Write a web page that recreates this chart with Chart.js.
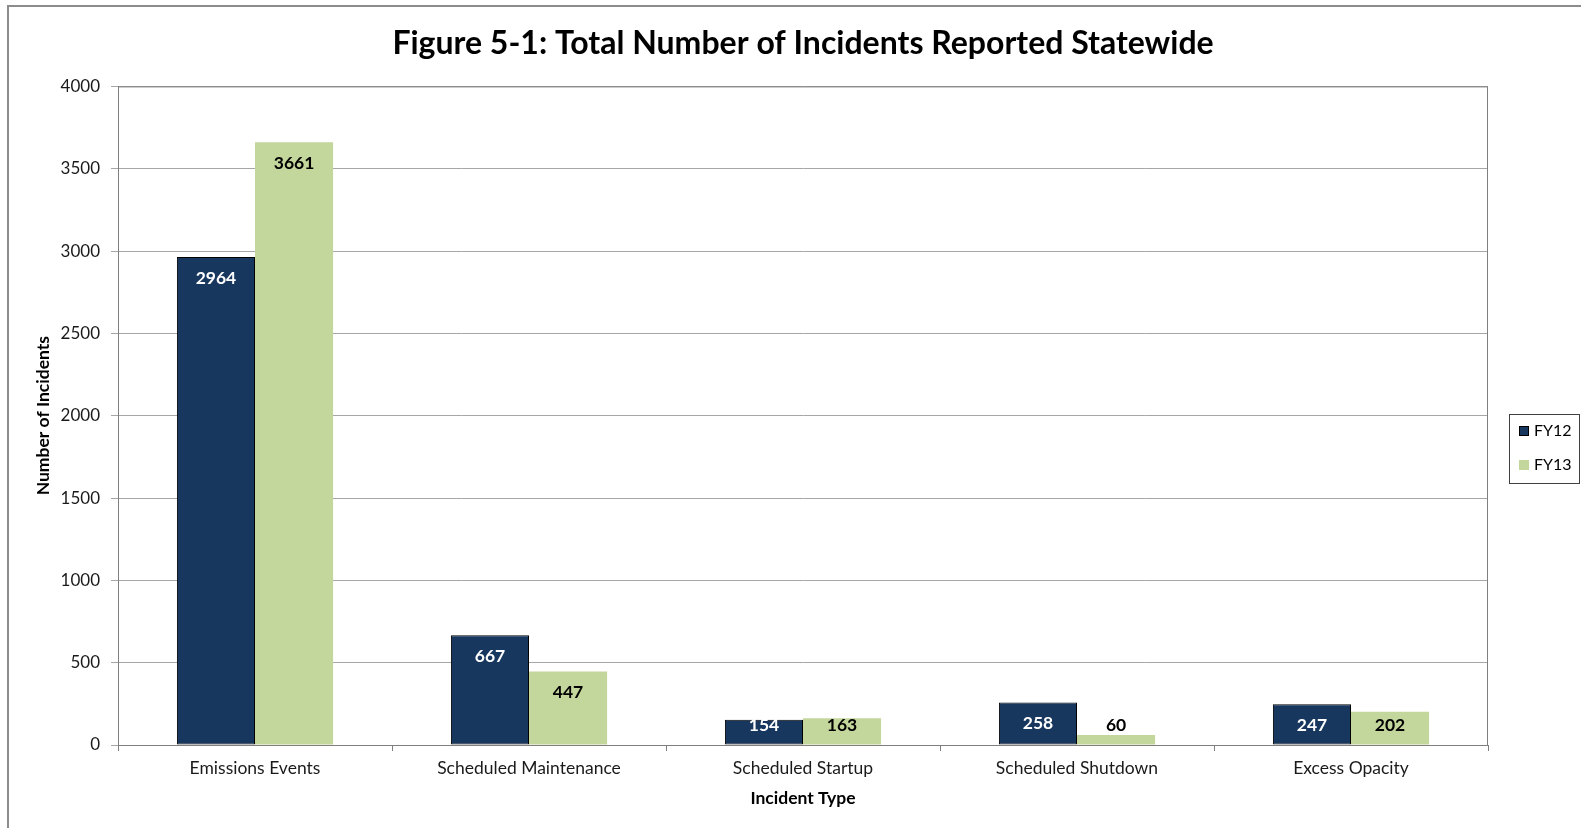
<!DOCTYPE html>
<html>
<head>
<meta charset="utf-8">
<script src="https://cdn.jsdelivr.net/npm/chart.js@4.4.0/dist/chart.umd.min.js"></script>
<style>
 html,body{margin:0;padding:0;background:#fff;overflow:hidden;}
 #wrap{position:relative;width:1581px;height:828px;}
</style>
</head>
<body>
<div id="wrap"><canvas id="chart" width="1581" height="828"></canvas></div>
<script>
const categories=["Emissions Events","Scheduled Maintenance","Scheduled Startup","Scheduled Shutdown","Excess Opacity"];
const fy12=[2964,667,154,258,247];
const fy13=[3661,447,163,60,202];
const seriesNames=["FY12","FY13"];

const FONT="Lato, 'Open Sans', sans-serif";

// outer frame of the chart object
const framePlugin={
 id:"frame",
 beforeDraw(chart){
   const c=chart.ctx;
   c.save();
   c.fillStyle="#fff";
   c.fillRect(0,0,chart.width,chart.height);
   c.strokeStyle="#8c8c8c";
   c.lineWidth=2;
   c.beginPath();
   c.moveTo(8,chart.height);
   c.lineTo(8,6);
   c.lineTo(chart.width,6);
   c.stroke();
   c.restore();
 },
 beforeDatasetsDraw(chart){
   const a=chart.chartArea,c=chart.ctx;
   c.save();
   c.strokeStyle="#7f7f7f";
   c.lineWidth=1;
   c.strokeRect(a.left+0.5,a.top+0.5,a.right-a.left-1,a.bottom-a.top);
   c.restore();
 }
};

// value labels, inside end like Excel
const labelPlugin={
 id:"barLabels",
 afterDatasetsDraw(chart){
   const c=chart.ctx;
   c.save();
   c.font="bold 17.5px "+FONT;
   c.textAlign="center";
   c.textBaseline="middle";
   chart.data.datasets.forEach((ds,i)=>{
     chart.getDatasetMeta(i).data.forEach((bar,j)=>{
       const y=Math.min(bar.y+21,bar.base-19);
       c.fillStyle=i===0?"#ffffff":"#000000";
       c.fillText(String(ds.data[j]),bar.x,y);
     });
   });
   c.restore();
 }
};

// legend box on the right
const legendPlugin={
 id:"sideLegend",
 afterDraw(chart){
   const c=chart.ctx;
   c.save();
   c.fillStyle="#fff";
   c.fillRect(1509,414,71,70);
   c.strokeStyle="#404040";
   c.lineWidth=1;
   c.strokeRect(1509.5,414.5,70,69);
   c.font="16px "+FONT;
   c.textBaseline="middle";
   chart.data.datasets.forEach((ds,i)=>{
     const y=431+i*34;
     c.fillStyle=ds.backgroundColor;
     c.fillRect(1519,y-5,10,10);
     if(ds.borderWidth){
       c.strokeStyle="#000";
       c.strokeRect(1519.5,y-4.5,9,9);
     }
     c.fillStyle="#000";
     c.fillText(ds.label,1534,y);
   });
   c.restore();
 }
};

new Chart(document.getElementById("chart"),{
 type:"bar",
 data:{
   labels:categories,
   datasets:[
     {label:seriesNames[0],data:fy12,backgroundColor:"#17375E",borderColor:"#000",borderWidth:1,borderSkipped:false},
     {label:seriesNames[1],data:fy13,backgroundColor:"#C3D69B",borderWidth:0}
   ]
 },
 options:{
   responsive:false,
   animation:false,
   events:[],
   layout:{padding:{left:0,right:93,top:0,bottom:0}},
   datasets:{bar:{categoryPercentage:0.57,barPercentage:1}},
   plugins:{
     legend:{display:false},
     tooltip:{enabled:false},
     title:{
       display:true,
       fullSize:false,
       text:"Figure 5-1: Total Number of Incidents Reported Statewide",
       color:"#000",
       font:{family:FONT,size:32,weight:"bold",lineHeight:1.2},
       padding:{top:24,bottom:24}
     }
   },
   scales:{
     x:{
       grid:{display:true,drawOnChartArea:false,drawTicks:true,tickLength:6,color:"#7f7f7f",offset:true},
       border:{color:"#7f7f7f"},
       ticks:{color:"#1a1a1a",font:{family:FONT,size:17.5},padding:7,maxRotation:0},
       title:{display:true,text:"Incident Type",color:"#000",font:{family:FONT,size:17.5,weight:"bold"},padding:{top:0,bottom:19}},
       afterFit(s){s.height=83;}
     },
     y:{
       min:0,max:4000,
       ticks:{stepSize:500,color:"#1a1a1a",font:{family:FONT,size:17},padding:11,callback:v=>String(v)},
       grid:{color:"#a6a6a6",tickLength:7,drawTicks:true},
       border:{color:"#7f7f7f"},
       title:{display:true,text:"Number of Incidents",color:"#000",font:{family:FONT,size:17.5,weight:"bold"},padding:{top:33,bottom:0}},
       afterFit(s){s.width=118;}
     }
   }
 },
 plugins:[framePlugin,labelPlugin,legendPlugin]
});
</script>
</body>
</html>
